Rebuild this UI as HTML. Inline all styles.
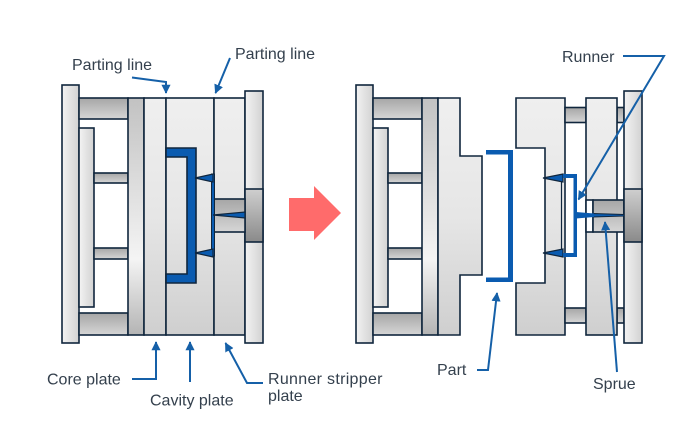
<!DOCTYPE html>
<html><head><meta charset="utf-8"><style>
html,body{margin:0;padding:0;background:#fff;}
svg{display:block;}
text{font-family:"Liberation Sans",sans-serif;font-size:16px;fill:#34404d;}
</style></head><body>
<svg width="700" height="436" viewBox="0 0 700 436" xmlns="http://www.w3.org/2000/svg">
<defs>
<linearGradient id="gH" x1="0" y1="0" x2="1" y2="0"><stop offset="0" stop-color="#f3f3f3"/><stop offset="1" stop-color="#d2d2d2"/></linearGradient>
<linearGradient id="gV" x1="0" y1="0" x2="0" y2="1"><stop offset="0" stop-color="#efefef"/><stop offset="0.5" stop-color="#e6e6e6"/><stop offset="1" stop-color="#cfcfcf"/></linearGradient>
<linearGradient id="gSup" x1="0" y1="0" x2="0" y2="1"><stop offset="0" stop-color="#c2c2c2"/><stop offset="0.68" stop-color="#f4f4f4"/><stop offset="1" stop-color="#b4b4b4"/></linearGradient>
<linearGradient id="gSp" x1="0" y1="0" x2="0" y2="1"><stop offset="0" stop-color="#a6a6a6"/><stop offset="1" stop-color="#d6d6d6"/></linearGradient>
<linearGradient id="gBush" x1="0" y1="0" x2="0" y2="1"><stop offset="0" stop-color="#cfcfcf"/><stop offset="1" stop-color="#8a8a8a"/></linearGradient>
<marker id="ah" viewBox="0 0 10 10" refX="9" refY="5" markerWidth="4.6" markerHeight="4.6" orient="auto" markerUnits="strokeWidth"><path d="M0,0 L10,5 L0,10 z" fill="#1560a8"/></marker>
</defs>

<!-- LEFT MOLD -->
<g stroke="#10263d" stroke-width="1.6">
<rect x="62" y="85" width="17" height="258" fill="url(#gH)"/>
<rect x="79" y="98" width="49" height="21" fill="url(#gSp)"/>
<rect x="79" y="313" width="49" height="22" fill="url(#gSp)"/>
<rect x="79" y="128" width="15" height="179" fill="url(#gH)"/>
<rect x="94" y="173" width="34" height="10" fill="url(#gSp)"/>
<rect x="94" y="248" width="34" height="11" fill="url(#gSp)"/>
<rect x="128" y="98" width="16" height="237" fill="url(#gSup)"/>
<rect x="144" y="98" width="22" height="237" fill="url(#gV)"/>
<rect x="166" y="98" width="48" height="237" fill="url(#gV)"/>
<rect x="214" y="98" width="31" height="237" fill="url(#gV)"/>
<rect x="245" y="91" width="18" height="252" fill="url(#gH)"/>
<rect x="245" y="189" width="18" height="53" fill="url(#gBush)"/>
<rect x="214" y="199" width="31" height="33" fill="url(#gSp)"/>
<polygon points="166,148 196,148 196,283 166,283 166,274 187,274 187,157 166,157" fill="#0a5bb0"/>
<rect x="211.5" y="174" width="3" height="82" fill="#0a5bb0" stroke-width="1"/>
<polygon points="195,178 213,174 213,182" fill="#0a5bb0" stroke-width="1.2"/>
<polygon points="195,253 213,249 213,257" fill="#0a5bb0" stroke-width="1.2"/>
<polygon points="213,215 245,212 245,218" fill="#0a5bb0" stroke-width="1.2"/>
</g>

<!-- BIG ARROW -->
<polygon points="289,198 314,198 314,186 341,213 314,240 314,231 289,231" fill="#ff6b6b"/>

<!-- RIGHT MOLD -->
<g stroke="#10263d" stroke-width="1.6">
<rect x="356" y="85" width="17" height="258" fill="url(#gH)"/>
<rect x="373" y="98" width="49" height="21" fill="url(#gSp)"/>
<rect x="373" y="313" width="49" height="22" fill="url(#gSp)"/>
<rect x="373" y="128" width="15" height="179" fill="url(#gH)"/>
<rect x="388" y="173" width="34" height="10" fill="url(#gSp)"/>
<rect x="388" y="248" width="34" height="11" fill="url(#gSp)"/>
<rect x="422" y="98" width="16" height="237" fill="url(#gSup)"/>
<path d="M438,98 H460 V156 H482 V275 H460 V335 H438 Z" fill="url(#gV)"/>
<path d="M516,98 H565 V335 H516 V283 H545 V148 H516 Z" fill="url(#gV)"/>
<line x1="561.5" y1="178" x2="561.5" y2="253" stroke-width="1.2"/>
<rect x="565" y="107.5" width="21" height="15" fill="url(#gSp)"/>
<rect x="565" y="308" width="21" height="15" fill="url(#gSp)"/>
<rect x="617" y="107.5" width="7" height="15" fill="url(#gSp)"/>
<rect x="617" y="308" width="7" height="15" fill="url(#gSp)"/>
<rect x="586" y="98" width="31" height="237" fill="url(#gV)"/>
<rect x="586" y="200" width="7" height="32" fill="#ffffff"/>
<rect x="593" y="200" width="31" height="32" fill="url(#gSp)"/>
<rect x="624" y="91" width="18" height="252" fill="url(#gH)"/>
<rect x="624" y="189" width="18" height="53" fill="url(#gBush)"/>
<polygon points="543,178 563,174 563,182" fill="#0a5bb0" stroke-width="1.2"/>
<polygon points="543,253 563,249 563,257" fill="#0a5bb0" stroke-width="1.2"/>
<polygon points="593,213.5 624,214.5 624,216 593,217" fill="#0a5bb0" stroke-width="1"/>
</g>
<polygon points="486,150 513,150 513,282 486,282 486,277.5 508,277.5 508,154.5 486,154.5" fill="#0a5bb0"/>
<polygon points="563,174 577,174 577,257 563,257 563,253 573.5,253 573.5,178 563,178" fill="#0a5bb0"/>
<polygon points="576,212 594,213.5 594,217 576,218.5" fill="#0a5bb0"/>

<!-- LEADERS -->
<g stroke="#1560a8" stroke-width="2" fill="none">
<polyline points="132,77.5 166,82 166,93" marker-end="url(#ah)"/>
<line x1="230" y1="58" x2="215.5" y2="93" marker-end="url(#ah)"/>
<polyline points="132,379 156,379 156,342" marker-end="url(#ah)"/>
<line x1="190" y1="382" x2="190" y2="342" marker-end="url(#ah)"/>
<polyline points="263,383 247,383 225.5,343" marker-end="url(#ah)"/>
<polyline points="623,56 664,56 578.5,199.5" marker-end="url(#ah)"/>
<polyline points="477,370 488,370 497,293" marker-end="url(#ah)"/>
<line x1="617" y1="372" x2="605" y2="222" marker-end="url(#ah)"/>
</g>

<!-- LABELS -->
<text x="72" y="70">Parting line</text>
<text x="235" y="59">Parting line</text>
<text x="47" y="384.5">Core plate</text>
<text x="150" y="405.5">Cavity plate</text>
<text x="268" y="384" letter-spacing="0.3">Runner stripper</text>
<text x="268" y="401">plate</text>
<text x="562" y="62">Runner</text>
<text x="437" y="375">Part</text>
<text x="593" y="389">Sprue</text>
</svg>
</body></html>
